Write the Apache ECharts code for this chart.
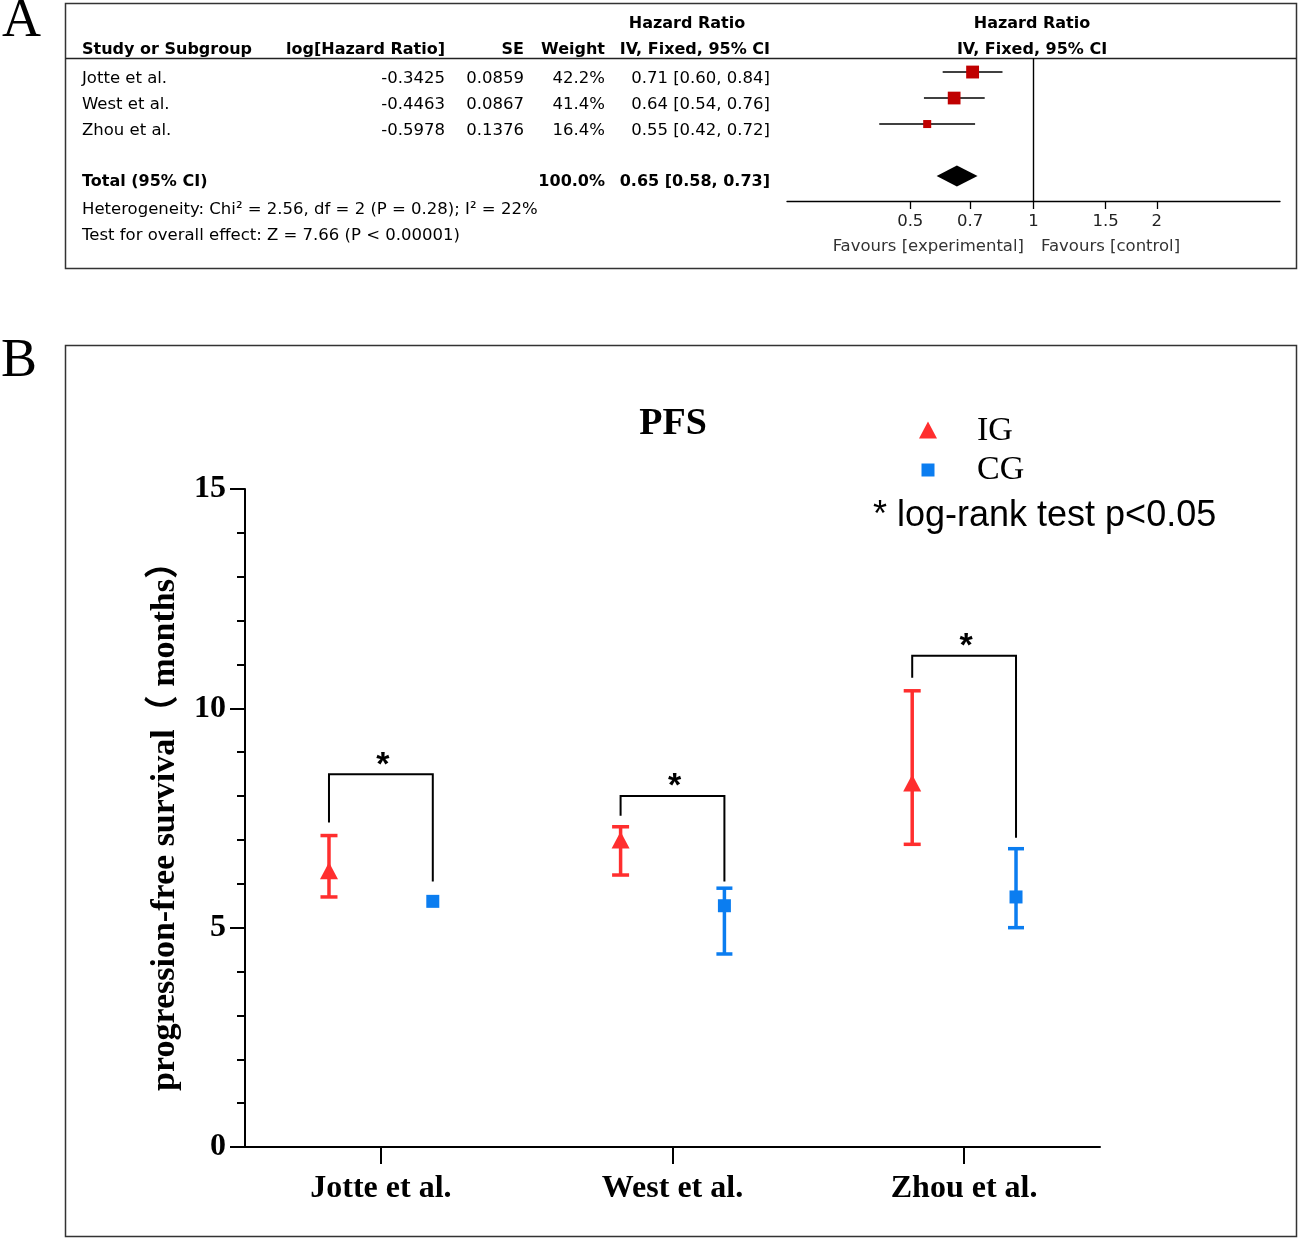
<!DOCTYPE html>
<html><head><meta charset="utf-8">
<script src="https://cdn.jsdelivr.net/npm/echarts@6/dist/echarts.min.js"></script>
<style>html,body{margin:0;padding:0;background:#fff}#c{width:1299px;height:1239px}</style>
</head><body><div id="c"></div><script>
// ---------- Panel A: forest plot data ----------
const studies = ['Jotte et al.', 'West et al.', 'Zhou et al.'];
const logHR = ['-0.3425', '-0.4463', '-0.5978'];
const seVals = ['0.0859', '0.0867', '0.1376'];
const weights = [42.2, 41.4, 16.4];
const hr = [0.71, 0.64, 0.55];
const hrLow = [0.60, 0.54, 0.42];
const hrHigh = [0.84, 0.76, 0.72];
const totalHR = [0.65, 0.58, 0.73];
const forestTicks = [0.5, 0.7, 1, 1.5, 2];
const heterogeneityText = 'Heterogeneity: Chi\u00b2 = 2.56, df = 2 (P = 0.28); I\u00b2 = 22%';
const overallText = 'Test for overall effect: Z = 7.66 (P < 0.00001)';

// ---------- Panel B: PFS data ----------
const categories = ['Jotte et al.', 'West et al.', 'Zhou et al.'];
const igMean = [6.3, 7.0, 8.3];
const igLow = [5.7, 6.2, 6.9];
const igHigh = [7.1, 7.3, 10.4];
const cgMean = [5.6, 5.5, 5.7];
const cgLow = [5.6, 4.4, 5.0];
const cgHigh = [5.6, 5.9, 6.8];
const bracketTop = [8.5, 8.0, 11.2];
const bracketLeftEnd = [7.4, 7.55, 10.7];
const bracketRightEnd = [6.05, 6.05, 7.05];

const RED = '#FF2E2E', BLUE = '#0B7DF0';
const SANS = "'DejaVu Sans', sans-serif";
const SERIF = "'Liberation Serif', 'Times New Roman', 'Noto Sans CJK SC', serif";
const DODGE = 0.178;

const chart = echarts.init(document.getElementById('c'), null, {renderer: 'canvas'});

function txt(x, y, text, align, font, fill) {
  return {type: 'text', x: x, y: y, silent: true, style: {text: text, align: align, verticalAlign: 'middle', font: font, fill: fill || '#000'}};
}

const F_REG = '16.5px ' + SANS;
const F_BOLD = 'bold 16px ' + SANS;
const ROW_TXT = 7;

const option = {
  backgroundColor: '#fff',
  animation: false,
  grid: [
    {left: 787, top: 58, width: 493, height: 143},
    {left: 245, top: 489, width: 855, height: 658}
  ],
  xAxis: [
    {
      gridIndex: 0, type: 'value', min: -2, max: 2,
      axisLine: {onZero: false, lineStyle: {color: '#000', width: 1.3}},
      axisTick: {customValues: forestTicks.map(Math.log2), length: 8, lineStyle: {color: '#000', width: 1.3}},
      axisLabel: {customValues: forestTicks.map(Math.log2), margin: 12, color: '#222', fontFamily: SANS, fontSize: 16.5,
        formatter: v => String(+Math.pow(2, v).toFixed(2))},
      splitLine: {show: false}
    },
    {
      gridIndex: 1, type: 'value', min: -0.466, max: 2.466,
      axisLine: {onZero: false, lineStyle: {color: '#000', width: 2}},
      axisTick: {customValues: [0, 1, 2], length: 17, lineStyle: {color: '#000', width: 2}},
      axisLabel: {customValues: [0, 1, 2], margin: 26, color: '#000', fontFamily: SERIF, fontWeight: 'bold', fontSize: 32,
        formatter: v => categories[Math.round(v)]},
      splitLine: {show: false}
    }
  ],
  yAxis: [
    {gridIndex: 0, type: 'value', min: -0.54, max: 4.96, inverse: true, show: false, splitLine: {show: false}},
    {
      gridIndex: 1, type: 'value', min: 0, max: 15, interval: 5,
      name: 'progression-free survival\uff08 months\uff09', nameLocation: 'middle', nameRotate: 90, nameGap: 63,
      nameTextStyle: {fontFamily: SERIF, fontWeight: 'bold', fontSize: 34, color: '#000'},
      axisLine: {show: true, onZero: false, lineStyle: {color: '#000', width: 2}},
      axisTick: {show: true, length: 15, lineStyle: {color: '#000', width: 2}},
      minorTick: {show: true, splitNumber: 5, length: 8, lineStyle: {color: '#000', width: 2}},
      axisLabel: {margin: 19, color: '#000', fontFamily: SERIF, fontWeight: 'bold', fontSize: 32},
      splitLine: {show: false}
    }
  ],
  series: [
    // table rows (text) aligned on the forest plot row scale
    {
      type: 'custom', xAxisIndex: 0, yAxisIndex: 0, clip: false, silent: true,
      data: studies.map((s, i) => [-2, i]),
      renderItem: (params, api) => {
        const i = params.dataIndex;
        const y = api.coord([-2, api.value(1)])[1] + ROW_TXT;
        return {type: 'group', children: [
          txt(82, y, studies[i], 'left', F_REG),
          txt(445, y, logHR[i], 'right', F_REG),
          txt(524, y, seVals[i], 'right', F_REG),
          txt(605, y, weights[i].toFixed(1) + '%', 'right', F_REG),
          txt(770, y, hr[i].toFixed(2) + ' [' + hrLow[i].toFixed(2) + ', ' + hrHigh[i].toFixed(2) + ']', 'right', F_REG)
        ]};
      }
    },
    {
      type: 'custom', xAxisIndex: 0, yAxisIndex: 0, clip: false, silent: true,
      data: [[-2, 4]],
      renderItem: (params, api) => {
        const y = api.coord([-2, api.value(1)])[1] + ROW_TXT - 1;
        const wsum = weights.reduce((a, b) => a + b, 0);
        return {type: 'group', children: [
          txt(82, y, 'Total (95% CI)', 'left', F_BOLD),
          txt(605, y, wsum.toFixed(1) + '%', 'right', F_BOLD),
          txt(770, y, totalHR[0].toFixed(2) + ' [' + totalHR[1].toFixed(2) + ', ' + totalHR[2].toFixed(2) + ']', 'right', F_BOLD)
        ]};
      }
    },
    {
      type: 'custom', xAxisIndex: 0, yAxisIndex: 0, clip: false, silent: true,
      data: [[-2, 5], [-2, 6]],
      renderItem: (params, api) => {
        const y = api.coord([-2, api.value(1)])[1] + ROW_TXT + 1;
        return txt(82, y, params.dataIndex === 0 ? heterogeneityText : overallText, 'left', F_REG);
      }
    },
    // study CI lines and weighted squares
    {
      type: 'custom', xAxisIndex: 0, yAxisIndex: 0, silent: true, clip: false,
      data: studies.map((s, i) => [Math.log2(hrLow[i]), Math.log2(hrHigh[i]), Math.log2(hr[i]), i, weights[i]]),
      encode: {x: [0, 1, 2], y: 3},
      renderItem: (params, api) => {
        const lo = api.coord([api.value(0), api.value(3)]);
        const hi = api.coord([api.value(1), api.value(3)]);
        const c = api.coord([api.value(2), api.value(3)]);
        const s = 1.98 * Math.sqrt(api.value(4));
        return {type: 'group', children: [
          {type: 'line', shape: {x1: lo[0], y1: lo[1], x2: hi[0], y2: hi[1]}, style: {stroke: '#000', lineWidth: 1.4}},
          {type: 'rect', shape: {x: c[0] - s / 2, y: c[1] - s / 2, width: s, height: s}, style: {fill: '#C00000'}}
        ]};
      }
    },
    // pooled diamond + line of no effect
    {
      type: 'custom', xAxisIndex: 0, yAxisIndex: 0, silent: true, clip: false,
      data: [[Math.log2(totalHR[1]), Math.log2(totalHR[2]), Math.log2(totalHR[0]), 4]],
      encode: {x: [0, 1, 2], y: 3},
      renderItem: (params, api) => {
        const lo = api.coord([api.value(0), api.value(3)]);
        const hi = api.coord([api.value(1), api.value(3)]);
        const c = api.coord([api.value(2), api.value(3)]);
        const h = 10.5;
        return {type: 'polygon', shape: {points: [[lo[0], c[1]], [c[0], c[1] - h], [hi[0], c[1]], [c[0], c[1] + h]]}, style: {fill: '#000'}};
      },
      markLine: {
        silent: true, symbol: 'none', label: {show: false},
        lineStyle: {color: '#000', width: 1.4, type: 'solid'},
        data: [{xAxis: 0}]
      }
    },
    // Panel B: brackets with significance asterisks
    {
      type: 'custom', xAxisIndex: 1, yAxisIndex: 1, silent: true, clip: false,
      data: categories.map((c, i) => [i, bracketTop[i], bracketLeftEnd[i], bracketRightEnd[i]]),
      encode: {x: 0, y: [1, 2, 3]},
      renderItem: (params, api) => {
        const i = api.value(0);
        const a = api.coord([i - DODGE, api.value(2)]);
        const b = api.coord([i - DODGE, api.value(1)]);
        const c = api.coord([i + DODGE, api.value(1)]);
        const d = api.coord([i + DODGE, api.value(3)]);
        const m = api.coord([i, api.value(1)]);
        return {type: 'group', children: [
          {type: 'polyline', shape: {points: [a, b, c, d]}, style: {stroke: '#000', lineWidth: 2, fill: null}},
          {type: 'text', x: m[0] + 2, y: m[1] - 9, style: {text: '*', align: 'center', verticalAlign: 'middle', font: 'bold 34px "Liberation Sans", Arial, sans-serif', fill: '#000'}}
        ]};
      }
    },
    // IG: triangles with error bars
    {
      name: 'IG', type: 'custom', xAxisIndex: 1, yAxisIndex: 1, silent: true, clip: false,
      data: categories.map((c, i) => [i, igMean[i], igLow[i], igHigh[i]]),
      encode: {x: 0, y: [1, 2, 3]},
      renderItem: (params, api) => {
        const x = api.value(0) - DODGE;
        const c = api.coord([x, api.value(1)]);
        const lo = api.coord([x, api.value(2)]);
        const hi = api.coord([x, api.value(3)]);
        const cw = 8.5, tw = 9, th = 8.5;
        const st = {stroke: RED, lineWidth: 3.5};
        return {type: 'group', children: [
          {type: 'line', shape: {x1: lo[0], y1: lo[1], x2: hi[0], y2: hi[1]}, style: st},
          {type: 'line', shape: {x1: lo[0] - cw, y1: lo[1], x2: lo[0] + cw, y2: lo[1]}, style: st},
          {type: 'line', shape: {x1: hi[0] - cw, y1: hi[1], x2: hi[0] + cw, y2: hi[1]}, style: st},
          {type: 'polygon', shape: {points: [[c[0], c[1] - th], [c[0] + tw, c[1] + th], [c[0] - tw, c[1] + th]]}, style: {fill: RED}}
        ]};
      }
    },
    // CG: squares with error bars
    {
      name: 'CG', type: 'custom', xAxisIndex: 1, yAxisIndex: 1, silent: true, clip: false,
      data: categories.map((c, i) => [i, cgMean[i], cgLow[i], cgHigh[i]]),
      encode: {x: 0, y: [1, 2, 3]},
      renderItem: (params, api) => {
        const x = api.value(0) + DODGE;
        const c = api.coord([x, api.value(1)]);
        const lo = api.coord([x, api.value(2)]);
        const hi = api.coord([x, api.value(3)]);
        const cw = 8, s = 13;
        const st = {stroke: BLUE, lineWidth: 3.5};
        const ch = [];
        if (api.value(3) > api.value(2)) {
          ch.push({type: 'line', shape: {x1: lo[0], y1: lo[1], x2: hi[0], y2: hi[1]}, style: st});
          ch.push({type: 'line', shape: {x1: lo[0] - cw, y1: lo[1], x2: lo[0] + cw, y2: lo[1]}, style: st});
          ch.push({type: 'line', shape: {x1: hi[0] - cw, y1: hi[1], x2: hi[0] + cw, y2: hi[1]}, style: st});
        }
        ch.push({type: 'rect', shape: {x: c[0] - s / 2, y: c[1] - s / 2, width: s, height: s}, style: {fill: BLUE}});
        return {type: 'group', children: ch};
      }
    }
  ],
  graphic: [
    // panel frames
    {type: 'rect', shape: {x: 65.5, y: 3.5, width: 1231, height: 265}, style: {fill: null, stroke: '#333', lineWidth: 1.5}, silent: true},
    {type: 'line', shape: {x1: 65.5, y1: 58.5, x2: 1296.5, y2: 58.5}, style: {stroke: '#222', lineWidth: 1.6}, silent: true},
    {type: 'rect', shape: {x: 65.5, y: 345.5, width: 1231, height: 891}, style: {fill: null, stroke: '#333', lineWidth: 1.5}, silent: true},
    // panel letters
    txt(2, 22, 'A', 'left', '54px ' + SERIF),
    txt(1, 362, 'B', 'left', '54px ' + SERIF),
    // forest header
    txt(687, 24, 'Hazard Ratio', 'center', F_BOLD),
    txt(82, 50, 'Study or Subgroup', 'left', F_BOLD),
    txt(445, 50, 'log[Hazard Ratio]', 'right', F_BOLD),
    txt(524, 50, 'SE', 'right', F_BOLD),
    txt(605, 50, 'Weight', 'right', F_BOLD),
    txt(770, 50, 'IV, Fixed, 95% CI', 'right', F_BOLD),
    txt(1032, 24, 'Hazard Ratio', 'center', F_BOLD),
    txt(1032, 50, 'IV, Fixed, 95% CI', 'center', F_BOLD),
    txt(1024, 247, 'Favours [experimental]', 'right', F_REG, '#333'),
    txt(1041, 247, 'Favours [control]', 'left', F_REG, '#333'),
    // PFS title & legend
    txt(673, 424, 'PFS', 'center', 'bold 38px ' + SERIF),
    {type: 'polygon', shape: {points: [[928, 421.5], [937, 438.5], [919, 438.5]]}, style: {fill: RED}, silent: true},
    {type: 'rect', shape: {x: 921.5, y: 463.5, width: 13, height: 13}, style: {fill: BLUE}, silent: true},
    txt(977, 431, 'IG', 'left', '34px ' + SERIF),
    txt(977, 470, 'CG', 'left', '34px ' + SERIF),
    txt(873, 516, '* log-rank test p<0.05', 'left', '36px "Liberation Sans", Arial, sans-serif')
  ]
};
chart.setOption(option);
</script></body></html>
